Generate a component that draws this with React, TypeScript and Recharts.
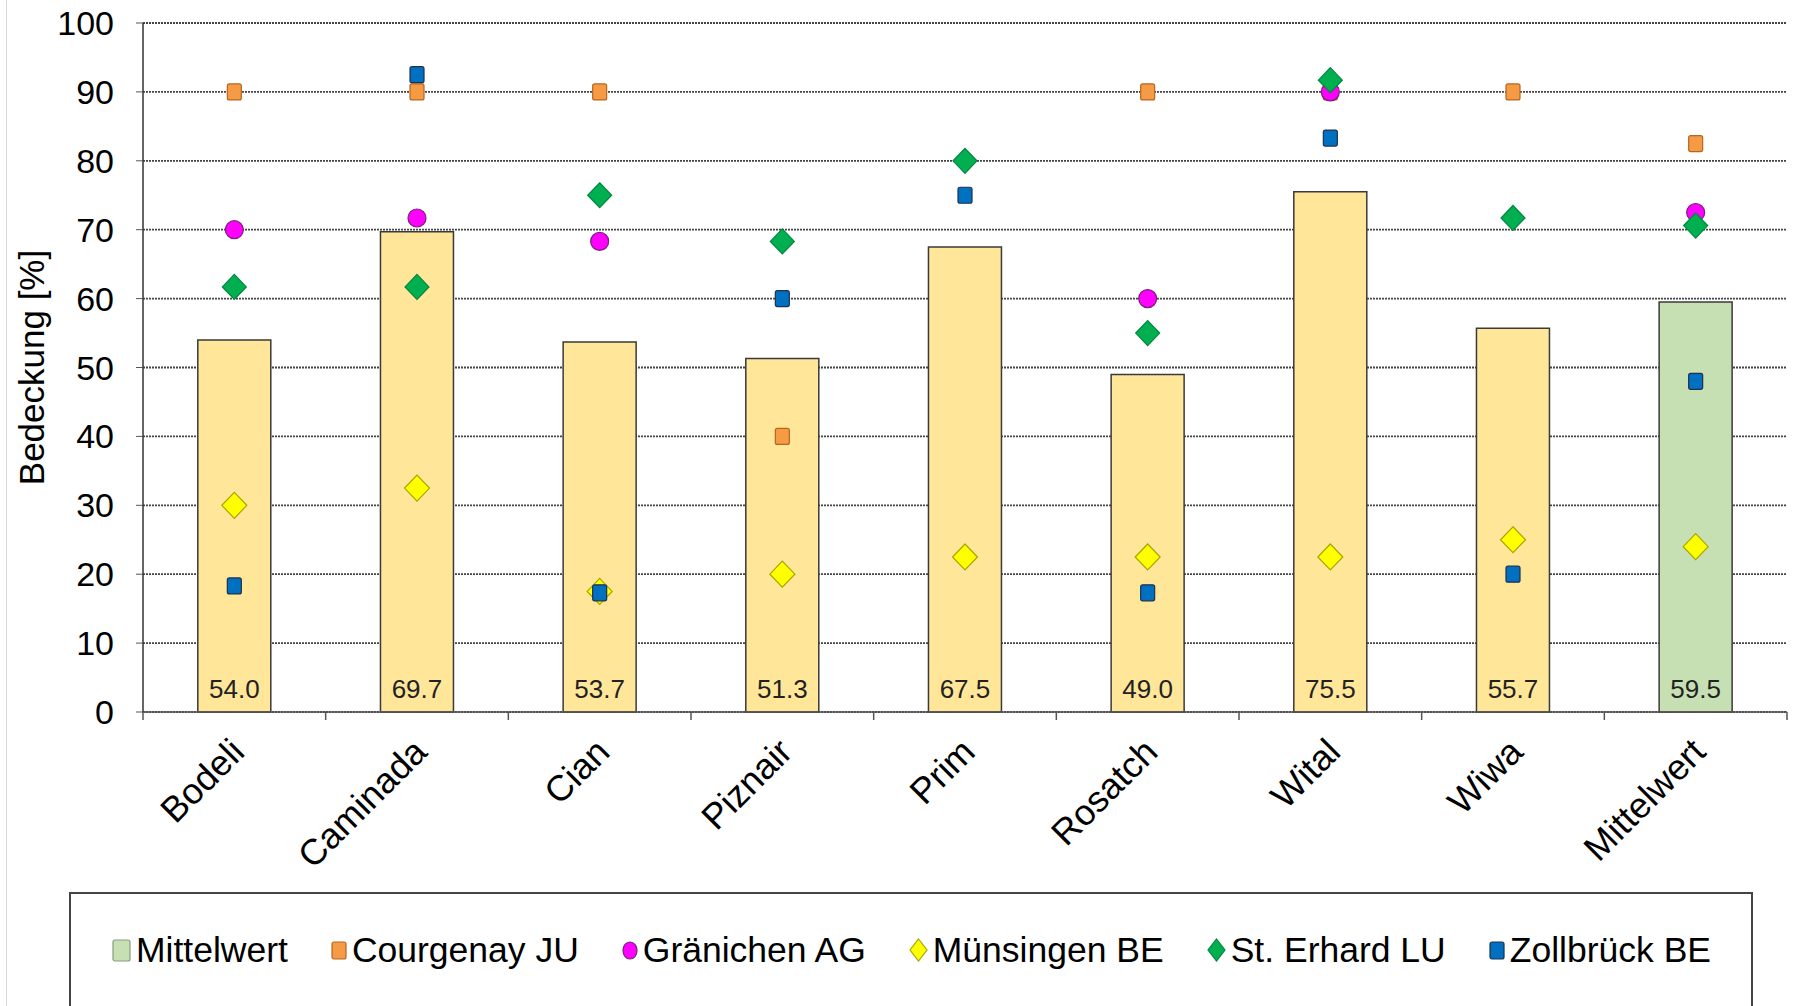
import React from "react";
import {
  ComposedChart,
  Bar,
  Scatter,
  XAxis,
  YAxis,
  CartesianGrid,
  Cell,
  LabelList,
  Legend,
} from "recharts";

const categories = ["Bodeli", "Caminada", "Cian", "Piznair", "Prim", "Rosatch", "Wital", "Wiwa", "Mittelwert"];
const mittelwert = [54.0, 69.7, 53.7, 51.3, 67.5, 49.0, 75.5, 55.7, 59.5];
const courgenay = [90, 90, 90, 40, null, 90, 90, 90, 82.5];
const granichen = [70, 71.7, 68.3, null, null, 60, 90, null, 72.5];
const munsingen = [30, 32.5, 17.5, 20, 22.5, 22.5, 22.5, 25, 24];
const erhard = [61.7, 61.7, 75, 68.3, 80, 55, 91.7, 71.7, 70.6];
const zollbruck = [18.3, 92.5, 17.3, 60, 75, 17.3, 83.3, 20, 48];
const yTicks = [0, 10, 20, 30, 40, 50, 60, 70, 80, 90, 100];

const data = categories.map((name, i) => ({
  name,
  mittelwert: mittelwert[i],
  courgenay: courgenay[i],
  granichen: granichen[i],
  munsingen: munsingen[i],
  erhard: erhard[i],
  zollbruck: zollbruck[i],
}));

const FONT = "'Liberation Sans', Arial, sans-serif";
const BAR_YELLOW = "#FFE699";
const BAR_GREEN = "#C6E0B4";

type MarkerKind = "square" | "circle" | "diamond";

const series: { key: string; name: string; kind: MarkerKind; fill: string; stroke: string; w: number; h: number }[] = [
  { key: "courgenay", name: "Courgenay JU", kind: "square", fill: "#F59A45", stroke: "#B8651E", w: 14, h: 16 },
  { key: "granichen", name: "Gränichen AG", kind: "circle", fill: "#FF00FF", stroke: "#7A1F7A", w: 18, h: 18 },
  { key: "munsingen", name: "Münsingen BE", kind: "diamond", fill: "#FFFF00", stroke: "#A6A600", w: 25, h: 26 },
  { key: "erhard", name: "St. Erhard LU", kind: "diamond", fill: "#00B050", stroke: "#00863C", w: 24, h: 25 },
  { key: "zollbruck", name: "Zollbrück BE", kind: "square", fill: "#0070C0", stroke: "#1F3050", w: 14, h: 16 },
];

function Marker({ kind, cx, cy, w, h, fill, stroke }: any) {
  if (kind === "square") {
    return <rect x={cx - w / 2} y={cy - h / 2} width={w} height={h} rx={2} fill={fill} stroke={stroke} strokeWidth={1.2} />;
  }
  if (kind === "circle") {
    return <ellipse cx={cx} cy={cy} rx={w / 2} ry={h / 2} fill={fill} stroke={stroke} strokeWidth={1.2} />;
  }
  const pts = `${cx},${cy - h / 2} ${cx + w / 2},${cy} ${cx},${cy + h / 2} ${cx - w / 2},${cy}`;
  return <polygon points={pts} fill={fill} stroke={stroke} strokeWidth={1.2} />;
}

const makeShape = (s: (typeof series)[number]) => (props: any) => {
  const { cx, cy, payload } = props;
  if (payload == null || payload[s.key] == null || !Number.isFinite(cx) || !Number.isFinite(cy)) return <g />;
  return <Marker kind={s.kind} cx={cx} cy={cy} w={s.w} h={s.h} fill={s.fill} stroke={s.stroke} />;
};

const BAND = (1787 - 143) / categories.length;

function CategoryTick(props: any) {
  const { x, y, payload, index } = props;
  const half = payload && payload.offset ? payload.offset : BAND / 2;
  const last = index === categories.length - 1;
  return (
    <g>
      <line x1={x - half} x2={x - half} y1={y - 8} y2={y} stroke="#555" strokeWidth={1.5} />
      {last && <line x1={x + half} x2={x + half} y1={y - 8} y2={y} stroke="#555" strokeWidth={1.5} />}
      <text
        transform={`translate(${x + 12},${y + 34}) rotate(-45)`}
        textAnchor="end"
        fontSize={36}
        fill="#000"
      >
        {payload.value}
      </text>
    </g>
  );
}

function BarValue(props: any) {
  const { x, y, width, height, value } = props;
  return (
    <text x={x + width / 2} y={y + height - 14} textAnchor="middle" fontSize={26} fill="#222">
      {Number(value).toFixed(1)}
    </text>
  );
}

function LegendIcon({ kind, fill, stroke, w, h }: any) {
  return (
    <svg width={w + 4} height={h + 4} style={{ display: "block" }}>
      <Marker kind={kind} cx={(w + 4) / 2} cy={(h + 4) / 2} w={w} h={h} fill={fill} stroke={stroke} />
    </svg>
  );
}

function LegendBox() {
  const items = [
    { name: "Mittelwert", kind: "square", fill: BAR_GREEN, stroke: "#8a9a80", w: 17, h: 21 },
    ...series.map((s) => ({ name: s.name, kind: s.kind, fill: s.fill, stroke: s.stroke, w: s.kind === "diamond" ? 17 : 14, h: s.kind === "diamond" ? 22 : 17 })),
  ];
  return (
    <div
      style={{
        width: 1684,
        height: 116,
        boxSizing: "border-box",
        border: "2px solid #444",
        background: "#fff",
        display: "flex",
        alignItems: "center",
        justifyContent: "center",
        gap: 42,
        fontFamily: FONT,
        fontSize: 35.5,
        color: "#000",
      }}
    >
      {items.map((it) => (
        <div key={it.name} style={{ display: "flex", alignItems: "center", gap: 4 }}>
          <LegendIcon kind={it.kind} fill={it.fill} stroke={it.stroke} w={it.w} h={it.h} />
          <span>{it.name}</span>
        </div>
      ))}
    </div>
  );
}

export default function App() {
  return (
    <div style={{ position: "absolute", left: 0, top: 0, width: 1800, height: 1006, background: "#fff", fontFamily: FONT, overflow: "hidden" }}>
      <div style={{ position: "absolute", left: 6, top: 0, width: 1, height: 1006, background: "#d8d8d8" }} />
      <ComposedChart width={1800} height={1006} data={data} margin={{ top: 23, right: 13, left: 0, bottom: 0 }} barCategoryGap="30%">
        <CartesianGrid vertical={false} stroke="#444" strokeDasharray="2 1" strokeWidth={1.8} />
        <XAxis
          dataKey="name"
          type="category"
          height={178}
          interval={0}
          tickLine={false}
          tickSize={8}
          tickMargin={0}
          axisLine={{ stroke: "#555", strokeWidth: 1.5 }}
          tick={<CategoryTick />}
        />
        <YAxis
          type="number"
          domain={[0, 100]}
          ticks={yTicks}
          width={143}
          interval={0}
          tickSize={7}
          tickMargin={22}
          axisLine={{ stroke: "#333", strokeWidth: 1.5 }}
          tickLine={{ stroke: "#555" }}
          tick={{ fontSize: 34, fill: "#000" }}
          label={{
            value: "Bedeckung [%]",
            angle: -90,
            position: "insideLeft",
            offset: 32,
            style: { textAnchor: "middle", fontSize: 35, fill: "#000" },
          }}
        />
        <Bar dataKey="mittelwert" name="Mittelwert" isAnimationActive={false} stroke="#3a3a3a" strokeWidth={1.5}>
          {data.map((d, i) => (
            <Cell key={d.name} fill={i === categories.length - 1 ? BAR_GREEN : BAR_YELLOW} />
          ))}
          <LabelList dataKey="mittelwert" content={<BarValue />} />
        </Bar>
        {series.map((s) => (
          <Scatter key={s.key} dataKey={s.key} name={s.name} fill={s.fill} isAnimationActive={false} shape={makeShape(s)} />
        ))}
        <Legend
          verticalAlign="bottom"
          width={1684}
          wrapperStyle={{ left: 69, top: 892 }}
          content={() => <LegendBox />}
        />
      </ComposedChart>
    </div>
  );
}
